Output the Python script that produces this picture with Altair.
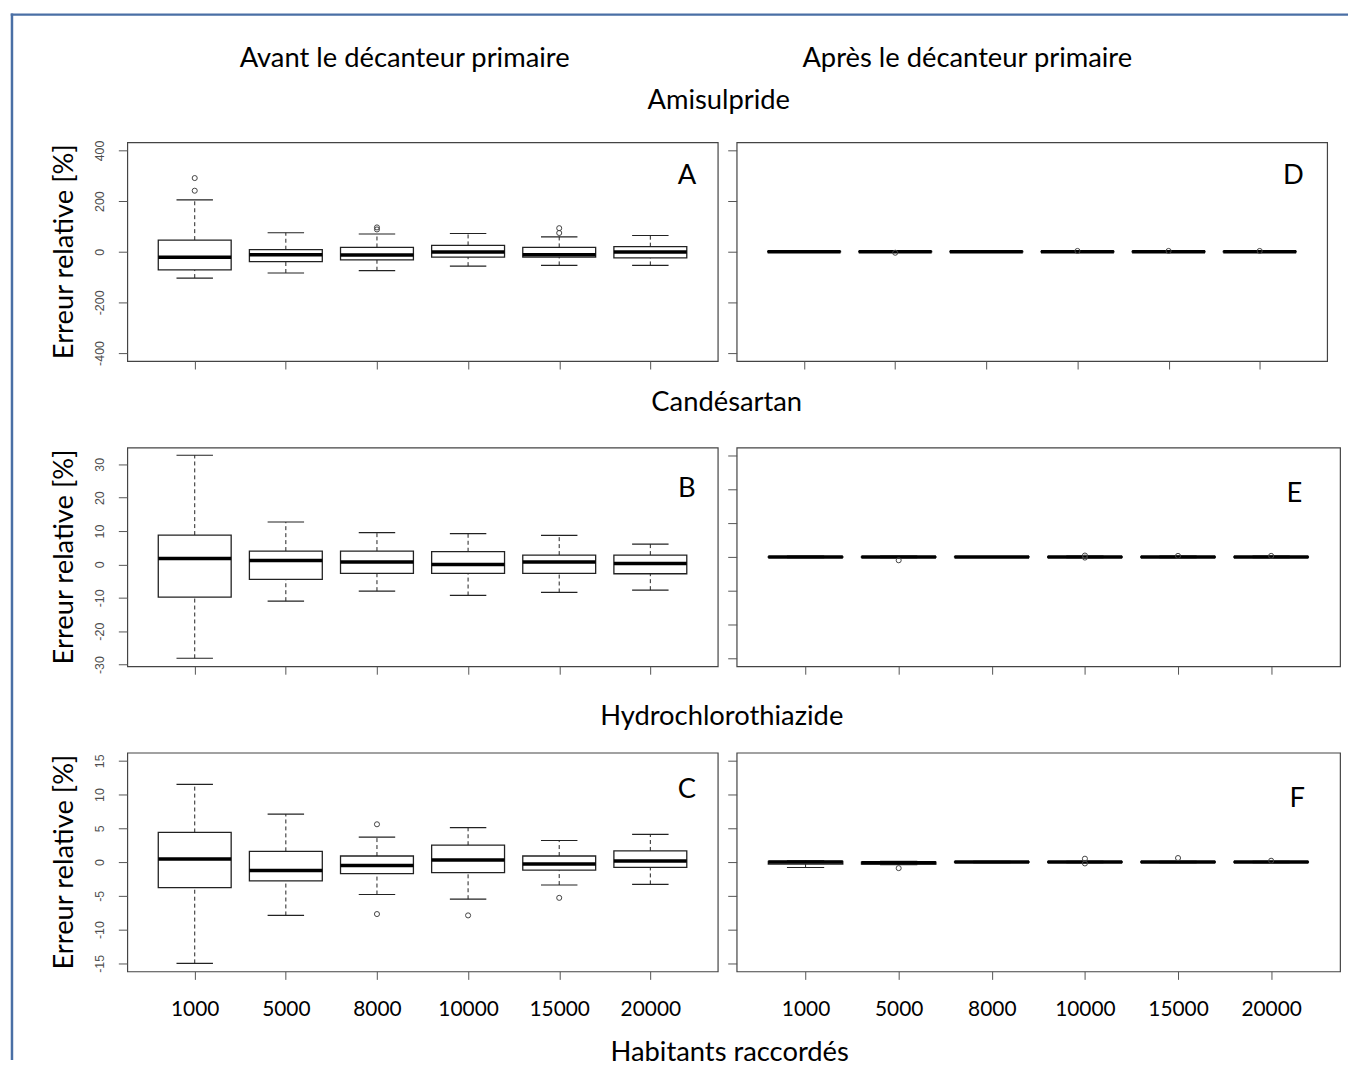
import json
import altair as alt
import pandas as pd

categories = ["1000", "5000", "8000", "10000", "15000", "20000"]
col_titles = ["Avant le décanteur primaire", "Après le décanteur primaire"]
row_titles = ["Amisulpride", "Candésartan", "Hydrochlorothiazide"]
panel_letters = ["A", "D", "B", "E", "C", "F"]
y_title = "Erreur relative [%]"
x_title = "Habitants raccordés"

# A - Amisulpride, avant
A_low = [-104, -84, -75, -57, -54, -54]
A_q1 = [-72, -39, -32, -21, -21, -24]
A_med = [-22, -12, -13, -1, -12, -1]
A_q3 = [46, 8, 17, 25, 17, 20]
A_high = [205, 75, 70, 72, 59, 64]
A_out = [[241, 291], [], [88, 96], [], [74, 93], []]

# D - Amisulpride, après
D_low = [-2, -2, -2, -2, -2, -2]
D_q1 = [-1, -1, -1, -1, -1, -1]
D_med = [0, 0, 0, 0, 0, 0]
D_q3 = [1, 1, 1, 1, 1, 1]
D_high = [2, 2, 2, 2, 2, 2]
D_out = [[], [-4], [], [3], [3], [3]]

# B - Candésartan, avant
B_low = [-28.1, -11.0, -8.0, -9.3, -8.4, -7.7]
B_q1 = [-9.8, -4.5, -2.7, -2.7, -2.7, -2.8]
B_med = [1.8, 1.2, 0.7, 0.0, 0.7, 0.3]
B_q3 = [8.8, 4.0, 4.0, 3.8, 2.8, 2.8]
B_high = [32.7, 12.7, 9.5, 9.2, 8.7, 6.1]
B_out = [[], [], [], [], [], []]

# E - Candésartan, après
E_low = [-0.2, -0.2, -0.1, -0.2, -0.2, -0.2]
E_q1 = [-0.1, -0.1, -0.05, -0.1, -0.1, -0.1]
E_med = [0, 0, 0, 0, 0, 0]
E_q3 = [0.1, 0.1, 0.05, 0.1, 0.1, 0.1]
E_high = [0.2, 0.2, 0.1, 0.2, 0.2, 0.2]
E_out = [[], [-1.0], [], [0.4, -0.2], [0.3], [0.3]]

# C - Hydrochlorothiazide, avant
C_low = [-15.0, -7.9, -4.8, -5.5, -3.4, -3.3]
C_q1 = [-3.8, -2.8, -1.7, -1.55, -1.2, -0.8]
C_med = [0.44, -1.26, -0.5, 0.3, -0.3, 0.15]
C_q3 = [4.4, 1.6, 0.9, 2.5, 0.9, 1.65]
C_high = [11.5, 7.1, 3.7, 5.1, 3.2, 4.1]
C_out = [[], [], [5.6, -7.7], [-7.9], [-5.3], []]

# F - Hydrochlorothiazide, après
F_low = [-0.8, -0.4, -0.1, -0.1, -0.1, -0.1]
F_q1 = [-0.3, -0.3, -0.05, -0.05, -0.05, -0.05]
F_med = [0, -0.1, 0, 0, 0, 0]
F_q3 = [0.1, 0.0, 0.05, 0.05, 0.05, 0.05]
F_high = [0.2, 0.1, 0.1, 0.1, 0.1, 0.1]
F_out = [[], [-0.9], [], [0.5, -0.2], [0.6], [0.2]]

A_dom, A_ticks = [-432, 432], [-400, -200, 0, 200, 400]
B_dom, B_ticks = [-30.5, 35.0], [-30, -20, -10, 0, 10, 20, 30]
E_dom = [-32.4, 32.4]
C_dom, C_ticks = [-16.2, 16.2], [-15, -10, -5, 0, 5, 10, 15]

FONT = "Lato"
TXT = 27.5
LEFT_W, H = 594, 220

label_expr = "[" + ",".join(json.dumps(c) for c in categories) + "][datum.value - 1]"


def txt(text, x, y, size=TXT, angle=None):
    kw = dict(font=FONT, fontSize=size, align="center", baseline="middle", color="black")
    if angle is not None:
        kw["angle"] = angle
    return alt.Chart(pd.DataFrame({"t": [text]})).mark_text(**kw).encode(
        x=alt.value(x), y=alt.value(y), text="t:N")


def panel(low, q1, med, q3, high, outs, ydom, yticks, width, ylabels, xlabels, extras):
    box = pd.DataFrame({"pos": list(range(1, 7)), "cat": categories, "low": low, "q1": q1,
                        "med": med, "q3": q3, "high": high})
    outdf = pd.DataFrame([{"pos": i + 1, "v": v} for i, vs in enumerate(outs) for v in vs],
                         columns=["pos", "v"])
    xs = alt.Scale(domain=[0.26, 6.74], nice=False, zero=False)
    ys = alt.Scale(domain=ydom, nice=False, zero=False)
    xaxis = alt.Axis(values=[1, 2, 3, 4, 5, 6], labels=xlabels, labelExpr=label_expr,
                     labelFont=FONT, labelFontSize=21, labelColor="black", labelPadding=19,
                     tickSize=8, tickColor="#555", domain=False, grid=False, title=None)
    yaxis = alt.Axis(values=yticks, labels=ylabels, labelExpr="'' + datum.value",
                     labelAngle=270, labelAlign="center", labelBaseline="bottom",
                     labelFont="Liberation Sans", labelFontSize=12.5, labelColor="#4d4d4d",
                     labelPadding=12, tickSize=9, tickColor="#555", domain=False, grid=False,
                     title=None)
    X = lambda f: alt.X(f, scale=xs, axis=xaxis)
    Y = lambda f: alt.Y(f, scale=ys, axis=yaxis)
    base = alt.Chart(box).transform_calculate(
        xl="datum.pos - 0.4", xr="datum.pos + 0.4",
        sl="datum.pos - 0.2", sr="datum.pos + 0.2")
    wl = base.mark_rule(color="#222", strokeDash=[4, 3], strokeWidth=1).encode(
        x=X("pos:Q"), y=Y("low:Q"), y2="q1:Q")
    wh = base.mark_rule(color="#222", strokeDash=[4, 3], strokeWidth=1).encode(
        x=X("pos:Q"), y=Y("q3:Q"), y2="high:Q")
    sl = base.mark_rule(color="#222", strokeWidth=1.2).encode(
        x=X("sl:Q"), x2="sr:Q", y=Y("low:Q"))
    sh = base.mark_rule(color="#222", strokeWidth=1.2).encode(
        x=X("sl:Q"), x2="sr:Q", y=Y("high:Q"))
    rect = base.mark_rect(fill="white", stroke="#222", strokeWidth=1.3).encode(
        x=X("xl:Q"), x2="xr:Q", y=Y("q1:Q"), y2="q3:Q")
    medl = base.mark_rule(color="black", strokeWidth=3.5).encode(
        x=X("xl:Q"), x2="xr:Q", y=Y("med:Q"))
    pts = alt.Chart(outdf).mark_point(shape="circle", filled=False, size=26, color="#444",
                                      strokeWidth=1, opacity=1).encode(
        x=X("pos:Q"), y=Y("v:Q"))
    return alt.layer(wl, wh, rect, sl, sh, medl, pts, *extras).properties(width=width, height=H)


frame_color = "#4a6fa5"
frame = [
    alt.Chart(pd.DataFrame({"k": [0]})).mark_rule(color=frame_color, strokeWidth=2.5).encode(
        x=alt.value(-116), y=alt.value(-129.75), y2=alt.value(923)),
    alt.Chart(pd.DataFrame({"k": [0]})).mark_rule(color=frame_color, strokeWidth=2.5).encode(
        x=alt.value(-117.25), x2=alt.value(1228), y=alt.value(-128.5)),
]

pA = panel(A_low, A_q1, A_med, A_q3, A_high, A_out, A_dom, A_ticks, LEFT_W, True, False,
           frame + [txt(col_titles[0], 279, -84), txt(row_titles[0], 595, -42),
                    txt(panel_letters[0], 563, 34), txt(y_title, -63, 110, angle=270)])
pD = panel(D_low, D_q1, D_med, D_q3, D_high, D_out, A_dom, A_ticks, 594, False, False,
           [txt(col_titles[1], 232, -84), txt(panel_letters[1], 560, 34)])
pB = panel(B_low, B_q1, B_med, B_q3, B_high, B_out, B_dom, B_ticks, LEFT_W, True, False,
           [txt(row_titles[1], 603, -45), txt(panel_letters[2], 563, 42),
            txt(y_title, -63, 110, angle=270)])
pE = panel(E_low, E_q1, E_med, E_q3, E_high, E_out, E_dom, B_ticks, 607, False, False,
           [txt(panel_letters[3], 561, 47)])
pC = panel(C_low, C_q1, C_med, C_q3, C_high, C_out, C_dom, C_ticks, LEFT_W, True, True,
           [txt(row_titles[2], 598, -36), txt(panel_letters[4], 563, 38),
            txt(y_title, -63, 110, angle=270), txt(x_title, 606, 302)])
pF = panel(F_low, F_q1, F_med, F_q3, F_high, F_out, C_dom, C_ticks, 607, False, True,
           [txt(panel_letters[5], 564, 47)])

chart = alt.concat(pA, pD, pB, pE, pC, pF, columns=2,
                   spacing={"row": 87, "column": 19}, bounds="flush", align="each").properties(
    padding=0, background="white"
).configure(padding=0).configure_view(stroke="#444", strokeWidth=1.2)

chart.save("out.html", embed_options={"renderer": "svg", "actions": False})
